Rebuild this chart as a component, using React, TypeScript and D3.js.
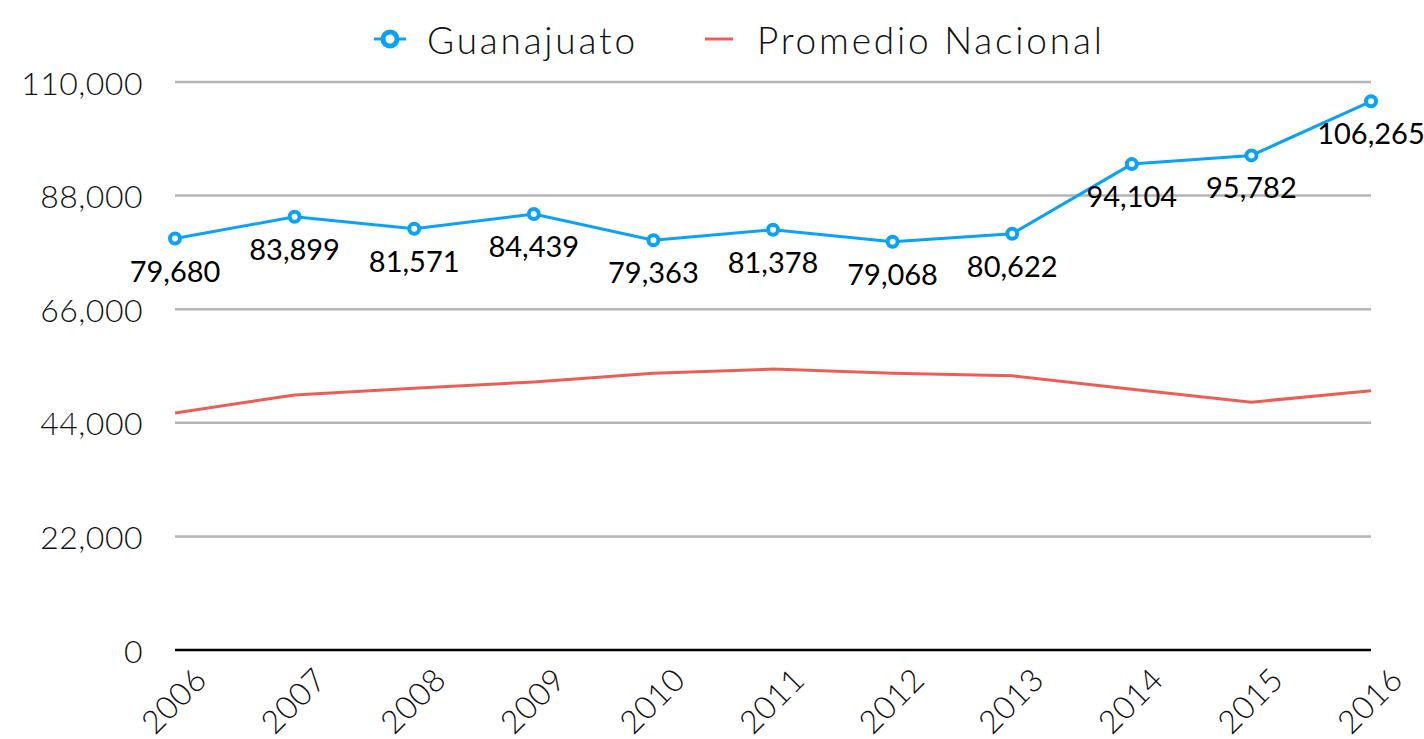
import { useEffect, useRef } from "react";
import * as d3 from "d3";

const years = ["2006", "2007", "2008", "2009", "2010", "2011", "2012", "2013", "2014", "2015", "2016"];
const guanajuato = [79680, 83899, 81571, 84439, 79363, 81378, 79068, 80622, 94104, 95782, 106265];
const promedioNacional = [45900, 49400, 50700, 51900, 53600, 54400, 53600, 53100, 50500, 48000, 50200];
const yTicks = [0, 22000, 44000, 66000, 88000, 110000];

const BLUE = "#0aa2f7";
const RED = "#ee5d55";
const AXIS_FONT = "'Lato', 'Open Sans', sans-serif";
const LABEL_FONT = "'Lato', 'DejaVu Sans', sans-serif";

const App = () => {
  const svgRef = useRef<SVGSVGElement | null>(null);

  useEffect(() => {
    const svg = d3.select(svgRef.current);
    svg.selectAll("*").remove();

    const width = 1424;
    const height = 739;
    const margin = { left: 175, right: 53, top: 82, bottom: 89 };

    const x = d3
      .scalePoint()
      .domain(years)
      .range([margin.left, width - margin.right]);
    const y = d3
      .scaleLinear()
      .domain([0, 110000])
      .range([height - margin.bottom, margin.top]);

    const fmt = d3.format(",");

    // grid lines
    svg
      .append("g")
      .selectAll("line")
      .data(yTicks.filter((d) => d > 0))
      .join("line")
      .attr("x1", margin.left)
      .attr("x2", width - margin.right)
      .attr("y1", (d) => y(d))
      .attr("y2", (d) => y(d))
      .attr("stroke", "#b5b5b5")
      .attr("stroke-width", 2.5);

    // base line
    svg
      .append("line")
      .attr("x1", margin.left)
      .attr("x2", width - margin.right)
      .attr("y1", y(0))
      .attr("y2", y(0))
      .attr("stroke", "#000")
      .attr("stroke-width", 2.5);

    // y labels
    svg
      .append("g")
      .selectAll("text")
      .data(yTicks)
      .join("text")
      .attr("x", 143)
      .attr("y", (d) => y(d))
      .attr("text-anchor", "end")
      .attr("dominant-baseline", "central")
      .style("font-family", AXIS_FONT)
      .style("font-weight", 300)
      .style("font-size", "32px")
      .style("letter-spacing", "0.5px")
      .attr("fill", "#111")
      .text((d) => fmt(d));

    // x labels
    svg
      .append("g")
      .selectAll("text")
      .data(years)
      .join("text")
      .attr("transform", (d) => `translate(${x(d)! - 2}, 700) rotate(-45)`)
      .attr("text-anchor", "middle")
      .attr("dominant-baseline", "central")
      .style("font-family", AXIS_FONT)
      .style("font-weight", 300)
      .style("font-size", "32px")
      .style("letter-spacing", "0.5px")
      .attr("fill", "#111")
      .text((d) => d);

    const line = d3
      .line<number>()
      .x((_, i) => x(years[i])!)
      .y((d) => y(d));

    svg
      .append("path")
      .datum(promedioNacional)
      .attr("d", line)
      .attr("fill", "none")
      .attr("stroke", RED)
      .attr("stroke-width", 3);

    svg
      .append("path")
      .datum(guanajuato)
      .attr("d", line)
      .attr("fill", "none")
      .attr("stroke", BLUE)
      .attr("stroke-width", 3);

    svg
      .append("g")
      .selectAll("circle")
      .data(guanajuato)
      .join("circle")
      .attr("cx", (_, i) => x(years[i])!)
      .attr("cy", (d) => y(d))
      .attr("r", 5)
      .attr("fill", "#fff")
      .attr("stroke", BLUE)
      .attr("stroke-width", 4);

    // data labels
    svg
      .append("g")
      .selectAll("text")
      .data(guanajuato)
      .join("text")
      .attr("x", (_, i) => x(years[i])!)
      .attr("y", (d) => y(d) + 43)
      .attr("text-anchor", "middle")
      .style("font-family", LABEL_FONT)
      .style("font-size", "29px")
      .attr("fill", "#000")
      .text((d) => fmt(d));

    // legend
    const legend = svg.append("g").attr("transform", "translate(0, 39)");
    legend
      .append("line")
      .attr("x1", 374)
      .attr("x2", 406)
      .attr("stroke", BLUE)
      .attr("stroke-width", 3);
    legend
      .append("circle")
      .attr("cx", 390)
      .attr("r", 7)
      .attr("fill", "#fff")
      .attr("stroke", BLUE)
      .attr("stroke-width", 5);
    legend
      .append("text")
      .attr("x", 427)
      .attr("dominant-baseline", "central")
      .style("font-family", AXIS_FONT)
      .style("font-weight", 300)
      .style("font-size", "37px")
      .style("letter-spacing", "2.8px")
      .attr("fill", "#111")
      .text("Guanajuato");
    legend
      .append("line")
      .attr("x1", 705)
      .attr("x2", 733)
      .attr("stroke", RED)
      .attr("stroke-width", 3);
    legend
      .append("text")
      .attr("x", 757)
      .attr("dominant-baseline", "central")
      .style("font-family", AXIS_FONT)
      .style("font-weight", 300)
      .style("font-size", "37px")
      .style("letter-spacing", "2.8px")
      .attr("fill", "#111")
      .text("Promedio Nacional");
  }, []);

  return (
    <svg
      ref={svgRef}
      width={1424}
      height={739}
      style={{ position: "absolute", left: 0, top: 0, background: "#fff" }}
    />
  );
};

export default App;
